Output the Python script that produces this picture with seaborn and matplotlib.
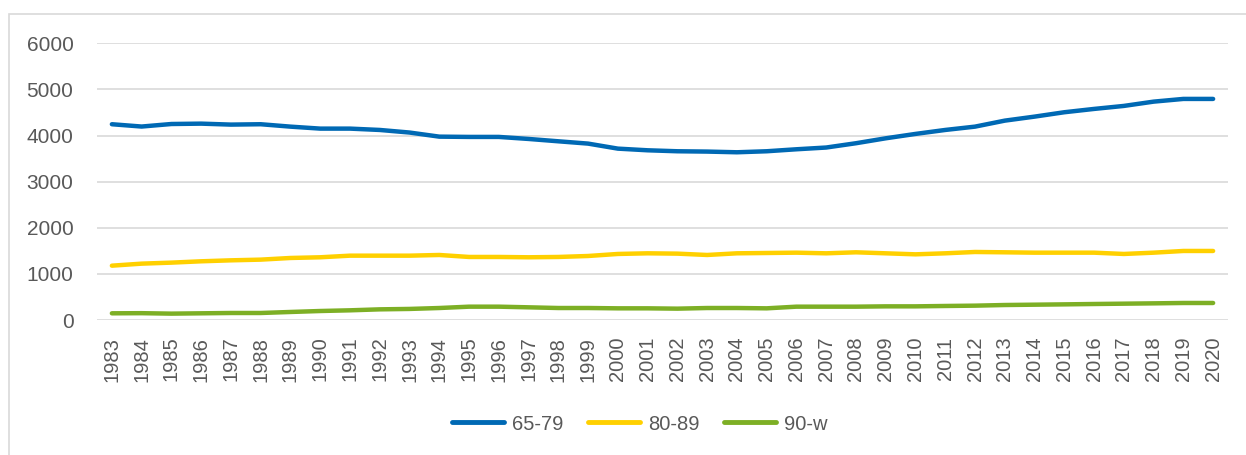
import pandas as pd
import numpy as np
import matplotlib.pyplot as plt
import seaborn as sns
from matplotlib.patches import Rectangle

years = list(range(1983, 2021))

age_65_79 = [4245, 4195, 4250, 4258, 4237, 4245, 4193, 4150, 4150, 4121,
             4065, 3976, 3970, 3970, 3926, 3875, 3825, 3716, 3680, 3659,
             3652, 3637, 3659, 3702, 3740, 3833, 3940, 4035, 4121, 4193,
             4323, 4410, 4505, 4577, 4642, 4735, 4794, 4794]
age_80_89 = [1178, 1222, 1244, 1273, 1294, 1309, 1345, 1360, 1395, 1395,
             1395, 1410, 1367, 1367, 1360, 1367, 1388, 1432, 1446, 1439,
             1410, 1446, 1453, 1460, 1446, 1468, 1446, 1424, 1446, 1475,
             1468, 1460, 1460, 1460, 1432, 1460, 1497, 1497]
age_90_w = [145, 148, 138, 145, 152, 152, 174, 195, 210, 231,
            240, 260, 289, 289, 275, 260, 260, 253, 253, 246,
            260, 260, 253, 289, 289, 289, 296, 296, 304, 311,
            325, 332, 339, 347, 354, 361, 369, 369]

series_names = ["65-79", "80-89", "90-w"]
colors = ["#0069B4", "#FFD000", "#7DAF25"]

df = pd.DataFrame({"year": years, "65-79": age_65_79,
                   "80-89": age_80_89, "90-w": age_90_w})
long_df = df.melt(id_vars="year", var_name="group", value_name="count")

sns.set_style("white")
plt.rcParams["font.family"] = ["Liberation Sans", "DejaVu Sans"]

fig = plt.figure(figsize=(12.46, 4.55), dpi=100)
ax = fig.add_axes([97 / 1246, 1 - 320 / 455, (1228 - 97) / 1246, (320 - 43.3) / 455])

sns.lineplot(data=long_df, x="year", y="count", hue="group",
             hue_order=series_names, palette=colors, linewidth=3.2,
             ax=ax, legend=True, solid_capstyle="round", solid_joinstyle="round")

ax.set_xlim(1982.5, 2020.5)
ax.set_ylim(0, 6000)
ax.set_yticks(range(0, 6001, 1000))
ax.set_xticks(years)
ax.set_xticklabels([str(y) for y in years], rotation=90)
ax.grid(axis="y", color="#D9D9D9", linewidth=1.2)
ax.grid(axis="x", visible=False)
ax.set_axisbelow(True)
for s in ax.spines.values():
    s.set_visible(False)
ax.tick_params(axis="y", length=0, pad=17, labelsize=15, labelcolor="#595959")
ax.tick_params(axis="x", length=0, pad=12, labelsize=14.5, labelcolor="#595959")
ax.set_xlabel("")
ax.set_ylabel("")

handles, labels = ax.get_legend_handles_labels()
ax.get_legend().remove()
leg = fig.legend(handles, labels, loc="center", bbox_to_anchor=(640 / 1246, 1 - 424 / 455),
                 ncol=3, frameon=False, fontsize=14.5, handlelength=2.6,
                 columnspacing=1.2, handletextpad=0.4)
for t in leg.get_texts():
    t.set_color("#595959")
for h in leg.get_lines():
    h.set_linewidth(3.5)

fig.patches.append(Rectangle((8.5 / 1246, -0.1), 1.2, 1 - 14 / 455 + 0.1,
                             transform=fig.transFigure, fill=False,
                             edgecolor="#D9D9D9", linewidth=1.2))

fig.savefig("out.png", dpi=100)
